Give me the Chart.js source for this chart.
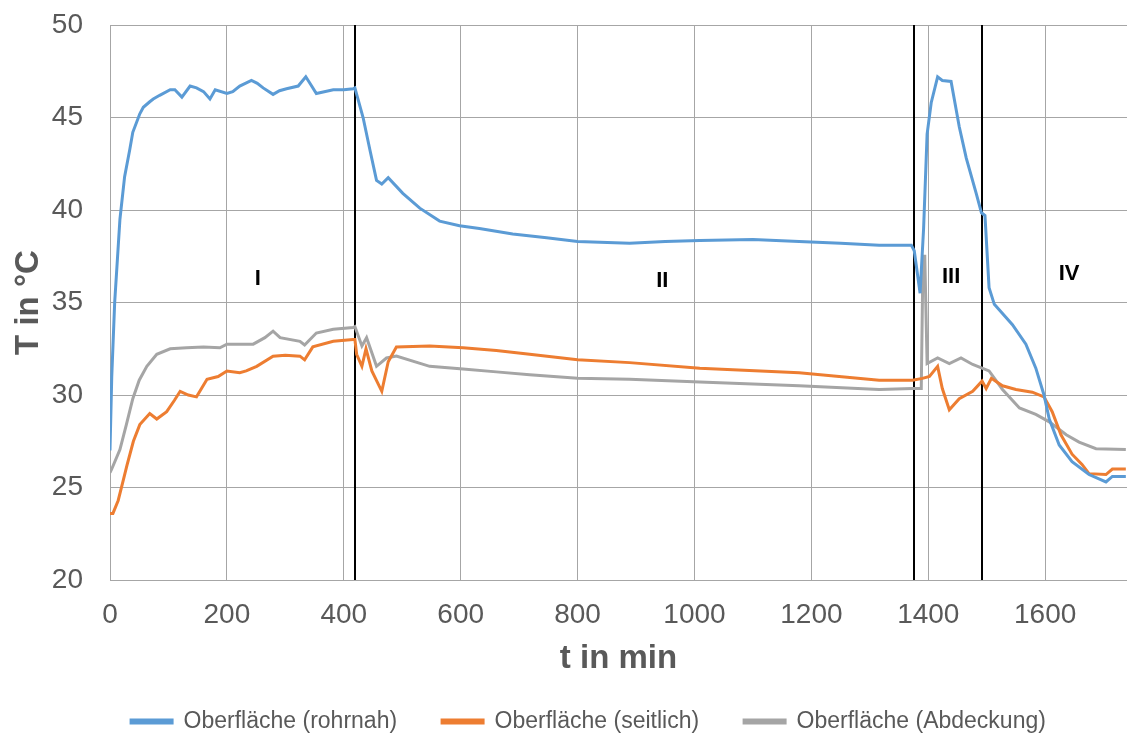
<!DOCTYPE html>
<html>
<head>
<meta charset="utf-8">
<script src="https://cdn.jsdelivr.net/npm/chart.js@4"></script>
<style>
  html, body { margin: 0; padding: 0; background: #fff; }
  #wrap { width: 1127px; height: 735px; }
</style>
</head>
<body>
<div id="wrap"><canvas id="temp-chart" width="1127" height="735"></canvas></div>
<script>
// series (t in min, T in °C)
const tRohrnah = [0, 3, 8, 17, 25, 34, 39, 51, 57, 68, 74, 85, 103, 111, 123, 137, 148, 160, 171, 180, 200, 210, 222, 242, 252, 262, 279, 290, 302, 322, 335, 345, 353, 382, 400, 416, 419, 433, 445, 456, 465, 476, 501, 530, 564, 598, 632, 689, 747, 800, 889, 950, 1009, 1100, 1179, 1250, 1316, 1371, 1376, 1386, 1392, 1398, 1405, 1416, 1424, 1439, 1453, 1465, 1482, 1491, 1497, 1504, 1513, 1544, 1567, 1584, 1598, 1607, 1624, 1646, 1675, 1704, 1715, 1738];
const vRohrnah = [27.0, 31.0, 35.0, 39.5, 41.8, 43.3, 44.2, 45.2, 45.55, 45.85, 46.0, 46.2, 46.5, 46.5, 46.1, 46.7, 46.6, 46.4, 46.0, 46.5, 46.3, 46.4, 46.7, 47.0, 46.85, 46.6, 46.25, 46.45, 46.55, 46.7, 47.2, 46.7, 46.3, 46.5, 46.5, 46.55, 46.6, 45.0, 43.2, 41.6, 41.4, 41.75, 40.9, 40.1, 39.4, 39.15, 39.0, 38.7, 38.5, 38.3, 38.2, 38.3, 38.35, 38.4, 38.3, 38.2, 38.1, 38.1, 37.8, 35.5, 39.0, 44.1, 45.8, 47.2, 47.0, 46.95, 44.5, 42.8, 40.9, 39.85, 39.7, 35.8, 34.9, 33.8, 32.75, 31.45, 30.0, 28.7, 27.3, 26.4, 25.7, 25.3, 25.6, 25.6];

const tSeitlich = [0, 5, 14, 22, 29, 40, 51, 68, 80, 97, 110, 120, 134, 148, 166, 185, 200, 222, 233, 251, 279, 300, 325, 333, 347, 382, 416, 419, 422, 431, 438, 448, 465, 476, 490, 547, 604, 661, 718, 800, 889, 1009, 1179, 1316, 1373, 1390, 1402, 1416, 1424, 1436, 1453, 1476, 1492, 1499, 1508, 1527, 1550, 1578, 1598, 1612, 1627, 1646, 1663, 1675, 1704, 1715, 1738];
const vSeitlich = [23.6, 23.6, 24.3, 25.3, 26.2, 27.5, 28.4, 29.0, 28.7, 29.1, 29.7, 30.2, 30.0, 29.9, 30.85, 31.0, 31.3, 31.2, 31.3, 31.55, 32.1, 32.15, 32.1, 31.9, 32.6, 32.9, 33.0, 33.0, 32.2, 31.55, 32.5, 31.3, 30.2, 31.8, 32.6, 32.65, 32.55, 32.4, 32.2, 31.9, 31.75, 31.45, 31.2, 30.8, 30.8, 30.9, 31.0, 31.55, 30.35, 29.2, 29.8, 30.2, 30.75, 30.35, 30.9, 30.5, 30.3, 30.15, 29.9, 29.1, 27.85, 26.8, 26.25, 25.75, 25.7, 26.0, 26.0];

const tAbdeckung = [0, 3, 17, 28, 39, 50, 63, 80, 103, 131, 160, 188, 200, 245, 265, 279, 291, 325, 333, 353, 382, 416, 419, 431, 439, 456, 473, 490, 547, 604, 661, 718, 800, 889, 1009, 1179, 1316, 1373, 1388, 1391, 1394, 1398, 1416, 1436, 1456, 1476, 1492, 1504, 1527, 1556, 1584, 1607, 1636, 1658, 1687, 1738];
const vAbdeckung = [25.8, 26.0, 27.05, 28.4, 29.8, 30.8, 31.55, 32.2, 32.5, 32.55, 32.6, 32.55, 32.75, 32.75, 33.1, 33.45, 33.1, 32.9, 32.7, 33.35, 33.55, 33.65, 33.7, 32.65, 33.1, 31.55, 32.0, 32.1, 31.55, 31.4, 31.25, 31.1, 30.9, 30.85, 30.7, 30.5, 30.3, 30.35, 30.35, 37.5, 37.5, 31.7, 32.0, 31.7, 32.0, 31.65, 31.45, 31.3, 30.3, 29.3, 28.95, 28.55, 27.85, 27.45, 27.1, 27.05];

// phase boundaries and labels
const phaseBounds = [419, 1376, 1492];
const phaseNames = ['I', 'II', 'III', 'IV'];
const phaseNameT = [253, 945, 1439, 1641];
const phaseNameV = [36.27, 36.16, 36.38, 36.54];

const toPoints = (ts, vs) => ts.map((t, i) => ({ x: t, y: vs[i] }));

const phasePlugin = {
  id: 'phases',
  beforeDatasetsDraw(chart) {
    const { ctx, chartArea, scales: { x } } = chart;
    ctx.save();
    ctx.strokeStyle = '#000000';
    ctx.lineWidth = 2;
    phaseBounds.forEach(t => {
      const px = Math.round(x.getPixelForValue(t));
      ctx.beginPath();
      ctx.moveTo(px, chartArea.top);
      ctx.lineTo(px, chartArea.bottom);
      ctx.stroke();
    });
    ctx.restore();
  },
  afterDatasetsDraw(chart) {
    const { ctx, scales: { x, y } } = chart;
    ctx.save();
    ctx.font = 'bold 22px "Liberation Sans", Arial, sans-serif';
    ctx.fillStyle = '#000000';
    ctx.textAlign = 'center';
    ctx.textBaseline = 'middle';
    phaseNames.forEach((n, i) => {
      ctx.fillText(n, x.getPixelForValue(phaseNameT[i]), y.getPixelForValue(phaseNameV[i]));
    });
    ctx.restore();
  }
};

const gridColor = '#a6a6a6';
const textColor = '#595959';
const family = '"Liberation Sans", Arial, sans-serif';

const ctx = document.getElementById('temp-chart').getContext('2d');
new Chart(ctx, {
  type: 'line',
  data: {
    datasets: [{
      label: 'Oberfläche (rohrnah)',
      data: toPoints(tRohrnah, vRohrnah),
      borderColor: '#5B9BD5',
      backgroundColor: '#5B9BD5'
    }, {
      label: 'Oberfläche (seitlich)',
      data: toPoints(tSeitlich, vSeitlich),
      borderColor: '#ED7D31',
      backgroundColor: '#ED7D31'
    }, {
      label: 'Oberfläche (Abdeckung)',
      data: toPoints(tAbdeckung, vAbdeckung),
      borderColor: '#A5A5A5',
      backgroundColor: '#A5A5A5'
    }]
  },
  options: {
    responsive: false,
    animation: false,
    elements: {
      point: { radius: 0 },
      line: { borderWidth: 3, tension: 0 }
    },
    layout: { padding: { top: 25, right: 0, left: 50, bottom: -8 } },
    scales: {
      x: {
        type: 'linear',
        min: 0,
        max: 1740,
        ticks: {
          stepSize: 200,
          includeBounds: false,
          color: textColor,
          padding: 18,
          font: { family, size: 28 },
          callback: v => String(v)
        },
        grid: { color: gridColor, drawTicks: false },
        border: { color: gridColor },
        title: {
          display: true,
          text: 't in min',
          color: textColor,
          padding: { top: 0, bottom: -14 },
          font: { family, size: 33, weight: 'bold' }
        },
        afterFit(scale) {
          scale.height = 85;
          scale.paddingLeft = 0;
          scale.paddingRight = 0;
        }
      },
      y: {
        min: 20,
        max: 50,
        ticks: {
          stepSize: 5,
          color: textColor,
          padding: 27,
          font: { family, size: 28 }
        },
        grid: { color: gridColor, drawTicks: false },
        border: { color: gridColor },
        title: {
          display: true,
          text: 'T in °C',
          color: textColor,
          padding: { top: -41, bottom: 0 },
          font: { family, size: 33, weight: 'bold' }
        },
        afterFit(scale) {
          scale.width = 60;
          scale.paddingTop = 0;
          scale.paddingBottom = 0;
        }
      }
    },
    plugins: {
      legend: {
        position: 'bottom',
        labels: {
          boxWidth: 41,
          boxHeight: 3,
          padding: 45,
          color: textColor,
          font: { family, size: 23 }
        }
      },
      tooltip: { enabled: false }
    }
  },
  plugins: [phasePlugin]
});
</script>
</body>
</html>
